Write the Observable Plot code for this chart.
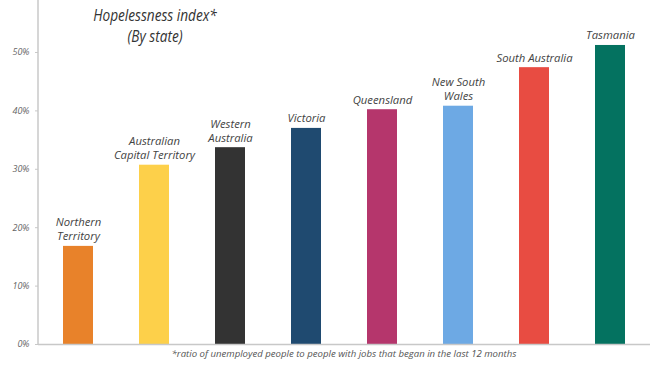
<!DOCTYPE html>
<html>
<head>
<meta charset="utf-8">
<script src="https://cdn.jsdelivr.net/npm/d3@7"></script>
<script src="https://cdn.jsdelivr.net/npm/@observablehq/plot@0.6"></script>
<style>
  html, body { margin: 0; padding: 0; background: #fff; }
  #wrap { position: relative; width: 650px; height: 366px; font-family: "Open Sans", Lato, sans-serif; }
  #title { position: absolute; left: 55px; width: 200px; top: 5px; text-align: center; font-style: italic; font-size: 15.5px; line-height: 21px; color: #333; transform: scaleX(0.88); }
  #note { position: absolute; left: 38px; width: 612px; top: 347px; text-align: center; font-style: italic; font-size: 9.6px; color: #555; }
</style>
</head>
<body>
<div id="wrap">
  <div id="chart"></div>
  <div id="title">Hopelessness index*<br>(By state)</div>
  <div id="note">*ratio of unemployed people to people with jobs that began in the last 12 months</div>
</div>
<script>
const states = ["Northern Territory", "Australian Capital Territory", "Western Australia", "Victoria", "Queensland", "New South Wales", "South Australia", "Tasmania"];
const labels = ["Northern\nTerritory", "Australian\nCapital Territory", "Western\nAustralia", "Victoria", "Queensland", "New South\nWales", "South Australia", "Tasmania"];
const values = [0.168, 0.307, 0.337, 0.370, 0.402, 0.408, 0.474, 0.512];
const colors = ["#E8822A", "#FDD04A", "#333333", "#1F4A70", "#B5366C", "#6DA9E4", "#E84C42", "#047260"];
const yTicks = [0, 0.1, 0.2, 0.3, 0.4, 0.5];

const data = states.map((s, i) => ({state: s, label: labels[i], value: values[i], color: colors[i]}));

function leftAxisLine(index, scales, values, dimensions) {
  const {marginLeft, marginTop, height, marginBottom} = dimensions;
  const line = document.createElementNS("http://www.w3.org/2000/svg", "line");
  line.setAttribute("x1", marginLeft);
  line.setAttribute("x2", marginLeft);
  line.setAttribute("y1", marginTop);
  line.setAttribute("y2", height - marginBottom);
  line.setAttribute("stroke", "#c8c8c8");
  line.setAttribute("stroke-width", 1.5);
  return line;
}

const chart = Plot.plot({
  width: 650,
  height: 366,
  marginLeft: 38,
  marginRight: 0,
  marginTop: 0,
  marginBottom: 22,
  style: {fontFamily: "'Open Sans', Lato, sans-serif", background: "#fff"},
  x: {domain: states, paddingInner: 0.607, paddingOuter: 0.315, axis: null},
  y: {domain: [0, 0.589], axis: null},
  marks: [
    Plot.barY(data, {x: "state", y: "value", fill: "color"}),
    leftAxisLine,
    Plot.ruleY([0], {stroke: "#c8c8c8", strokeWidth: 1.5}),
    Plot.axisY({ticks: yTicks, tickFormat: d3.format(".0%"), tickSize: 3, stroke: "#c8c8c8", tickPadding: 6, fontSize: 9, fontStyle: "italic", fill: "#666", label: null}),
    Plot.text(data, {x: "state", y: "value", text: "label", lineAnchor: "bottom", dy: -6, fontSize: 11.3, fontStyle: "italic", fill: "#444", lineHeight: 1.25})
  ]
});
document.getElementById("chart").appendChild(chart);
</script>
</body>
</html>
